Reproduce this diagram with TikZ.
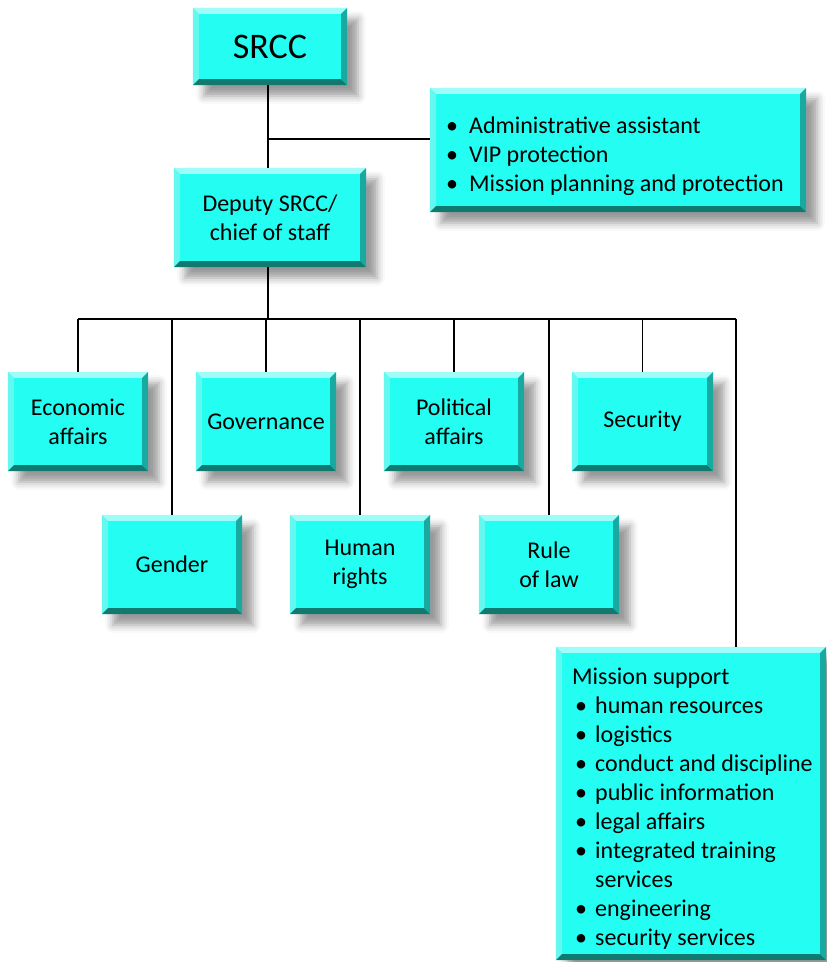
\documentclass[tikz,border=0pt]{standalone}
\usepackage{fontspec}
\setmainfont{Carlito}
\usetikzlibrary{shadows.blur}
\definecolor{boxface}{RGB}{36,254,242}
\definecolor{boxtop}{RGB}{160,252,248}
\definecolor{boxleft}{RGB}{100,248,240}
\definecolor{boxright}{RGB}{24,170,160}
\definecolor{boxbottom}{RGB}{16,122,112}
\newcommand{\bevel}[1]{%
  \fill[boxtop] (#1.north west) -- (#1.north east) -- ([shift={(-6,6)}]#1.north east) -- ([shift={(6,6)}]#1.north west) -- cycle;
  \fill[boxleft] (#1.north west) -- ([shift={(6,6)}]#1.north west) -- ([shift={(6,-6)}]#1.south west) -- (#1.south west) -- cycle;
  \fill[boxright] (#1.north east) -- ([shift={(-6,6)}]#1.north east) -- ([shift={(-6,-6)}]#1.south east) -- (#1.south east) -- cycle;
  \fill[boxbottom] (#1.south west) -- ([shift={(6,-6)}]#1.south west) -- ([shift={(-6,-6)}]#1.south east) -- (#1.south east) -- cycle;}
\newcommand{\itm}[1]{\makebox[23pt][l]{\textbullet}#1}
\newcommand{\sitm}[1]{\hspace*{3pt}\makebox[20pt][l]{\textbullet}#1}

\begin{document}
\begin{tikzpicture}[x=1pt, y=-1pt]
          \tikzstyle{unit}=[fill=boxface, inner sep=0pt, minimum width=140pt, minimum height=99pt, align=center,
            font=\fontsize{24}{29}\selectfont, blur shadow={shadow xshift=11pt, shadow yshift=-11pt, shadow blur radius=8pt, shadow opacity=40}]
          \tikzstyle{tie}=[line width=1.2pt]

          \useasboundingbox (0, 0) rectangle (827, 962);

          \node (srcc) at (270, 46.5) [unit, minimum width=154pt, minimum height=77pt, font=\fontsize{36}{40}\selectfont] {SRCC};
          \node (admin) at (618, 150) [unit, minimum width=376pt, minimum height=124pt] {};
          \node (adminlist) at (446, 117) [anchor=north west, align=left, inner sep=0pt, font=\fontsize{24}{29}\selectfont]
            {\itm{Administrative assistant}\\\itm{VIP protection}\\\itm{Mission planning and protection}};
          \node (deputy) at (270, 217.5) [unit, minimum width=192pt] {Deputy SRCC/\\chief of staff};

          \node (econ) at (78, 421.5) [unit] {Economic\\affairs};
          \node (gov) at (266, 421.5) [unit] {Governance};
          \node (pol) at (454, 421.5) [unit] {Political\\affairs};
          \node (sec) at (642.5, 421.5) [unit, minimum width=141pt] {Security};
          \node (gender) at (172, 564.5) [unit] {Gender};
          \node (human) at (360, 564.5) [unit] {Human\\rights};
          \node (rule) at (549, 564.5) [unit] {Rule\\of law};

          \node (mission) at (691, 803.5) [unit, minimum width=270pt, minimum height=313pt] {};
          \node (missionlist) at (572, 668) [anchor=north west, align=left, inner sep=0pt, font=\fontsize{24}{29}\selectfont]
            {Mission support\\\sitm{human resources}\\\sitm{logistics}\\\sitm{conduct and discipline}\\
             \sitm{public information}\\\sitm{legal affairs}\\\sitm{integrated training}\\
             \hspace*{23pt}services\\\sitm{engineering}\\\sitm{security services}};

          \bevel{srcc} \bevel{admin} \bevel{deputy}
          \bevel{econ} \bevel{gov} \bevel{pol} \bevel{sec}
          \bevel{gender} \bevel{human} \bevel{rule} \bevel{mission}

          \coordinate (tap) at (268, 139);
          \coordinate (bus) at (268, 319);
          \coordinate (mtap) at (736, 319);

          \draw[tie] ([xshift=-2]srcc.south) -- ([xshift=-2]deputy.north);
          \draw[tie] (tap) -- (tap -| admin.west);
          \draw[tie] ([xshift=-2]deputy.south) -- (bus);
          \draw[tie] (econ.north |- bus) -- (mtap);
          \draw[tie] (econ.north) -- (econ.north |- bus);
          \draw[tie] (gov.north) -- (gov.north |- bus);
          \draw[tie] (pol.north) -- (pol.north |- bus);
          \draw[tie] (sec.north) -- (sec.north |- bus);
          \draw[tie] (gender.north) -- (gender.north |- bus);
          \draw[tie] (human.north) -- (human.north |- bus);
          \draw[tie] (rule.north) -- (rule.north |- bus);
          \draw[tie] (mtap) -- (mtap |- mission.north);
\end{tikzpicture}
\end{document}
